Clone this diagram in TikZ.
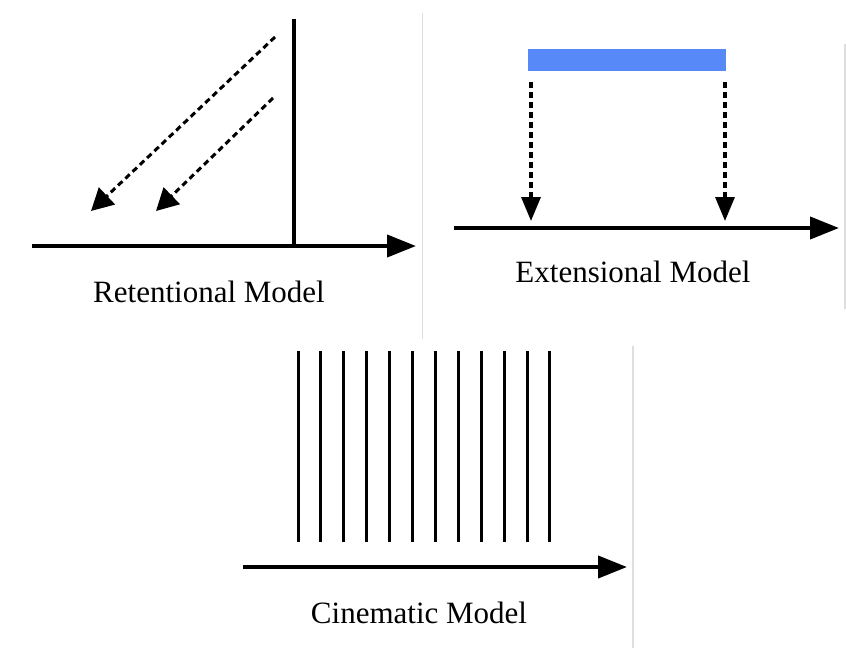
\documentclass[tikz,border=0pt]{standalone}
\usepackage{fontspec}
\setmainfont{Liberation Serif}
\usetikzlibrary{arrows.meta}
\usetikzlibrary{positioning}
\definecolor{barblue}{RGB}{87,137,248}
\definecolor{sepgray}{RGB}{222,222,222}
\tikzset{axis/.style = {line width = 4, -{Triangle[length = 29, width = 22]}}}
\tikzset{dasharrow/.style = {line width = 3, dash pattern = on 6 off 4}}
\tikzset{sep/.style = {draw = sepgray, line width = 1.2}}
\tikzset{caption/.style = {anchor = base, inner sep = 0, font = \fontsize{31}{36}\selectfont}}

\begin{document}
\begin{tikzpicture}[x = 1pt, y = -1pt]
      \useasboundingbox (0, 0) rectangle (846, 648);

      % separators
      \draw [sep] (422.5, 13) -- (422.5, 339);
      \draw [sep] (845, 44) -- (845, 309);
      \draw [sep] (633, 346) -- (633, 648);

      % retentional
      \coordinate (ra) at (32, 246);
      \coordinate (rb) at (416, 246);
      \draw [axis] (ra) -- (rb);
      \draw [line width = 4] (294, 19) -- (294, 246);
      \draw [dasharrow, -{Triangle[length = 22, width = 23]}] (275, 37) -- (91, 211);
      \draw [dasharrow, -{Triangle[length = 22, width = 23]}] (273, 98) -- (156, 211);
      \node [caption] (ret) at (209, 302) {Retentional Model};

      % extensional
      \fill [barblue] (528, 49) rectangle (726, 71);
      \draw [axis] (454, 228) -- (839, 228);
      \draw [dasharrow, line width = 3.4, -{Triangle[length = 24, width = 19]}] (531, 82) -- (531, 221);
      \draw [dasharrow, line width = 3.4, -{Triangle[length = 24, width = 19]}] (725, 82) -- (725, 221);
      \node [caption] (ext) at (633, 282) {Extensional Model};

      % cinematic
      \foreach \i in {0, ..., 11}
        \draw [line width = 3] (298 + 22.9 * \i, 351) -- ++(0, 191);
      \draw [axis] (243, 567) -- (627, 567);
      \node [caption] (cin) at (419, 623) {Cinematic Model};
    \end{tikzpicture}
\end{document}
